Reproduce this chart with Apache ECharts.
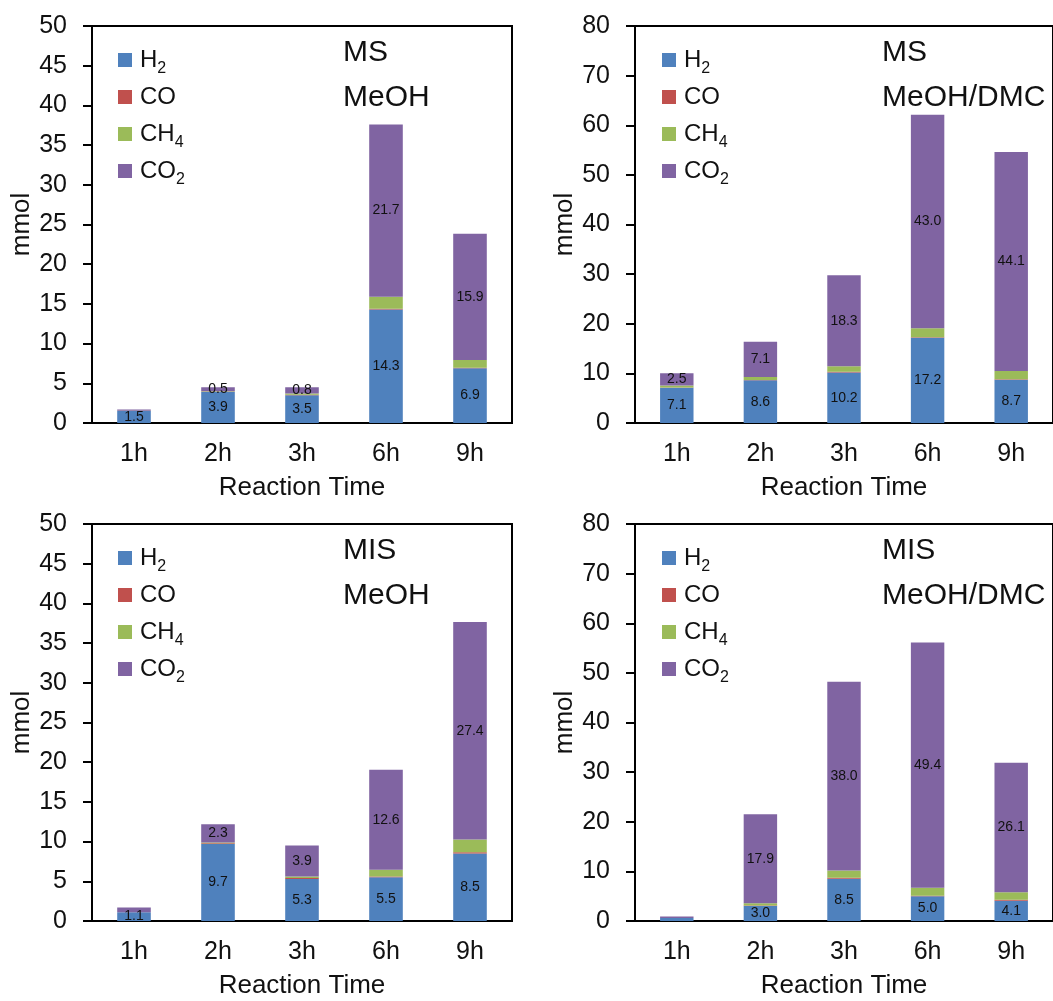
<!DOCTYPE html>
<html><head><meta charset="utf-8">
<script src="https://cdn.jsdelivr.net/npm/echarts@6/dist/echarts.min.js"></script>
<style>html,body{margin:0;padding:0;background:#fff}#c{width:1053px;height:1001px}</style>
</head><body><div id="c"></div><script>
const categories = ['1h', '2h', '3h', '6h', '9h'];
const gases = ['H2', 'CO', 'CH4', 'CO2'];
const gasColors = ['#4F81BD', '#C0504D', '#9BBB59', '#8064A2'];
const panelTitles = ['MS\nMeOH', 'MS\nMeOH/DMC', 'MIS\nMeOH', 'MIS\nMeOH/DMC'];
const yMax = [50, 80, 50, 80];
const yStep = [5, 10, 5, 10];

// Panel 1: MS, MeOH
const msMeoh_H2  = [1.5, 3.9, 3.5, 14.3, 6.9];
const msMeoh_CO  = [0.0, 0.05, 0.05, 0.1, 0.05];
const msMeoh_CH4 = [0.05, 0.05, 0.15, 1.5, 1.0];
const msMeoh_CO2 = [0.15, 0.5, 0.8, 21.7, 15.9];
// Panel 2: MS, MeOH/DMC
const msDmc_H2  = [7.1, 8.6, 10.2, 17.2, 8.7];
const msDmc_CO  = [0.05, 0.05, 0.15, 0.1, 0.1];
const msDmc_CH4 = [0.4, 0.6, 1.1, 1.8, 1.7];
const msDmc_CO2 = [2.5, 7.1, 18.3, 43.0, 44.1];
// Panel 3: MIS, MeOH
const misMeoh_H2  = [1.1, 9.7, 5.3, 5.5, 8.5];
const misMeoh_CO  = [0.0, 0.1, 0.1, 0.1, 0.15];
const misMeoh_CH4 = [0.0, 0.1, 0.2, 0.85, 1.6];
const misMeoh_CO2 = [0.6, 2.3, 3.9, 12.6, 27.4];
// Panel 4: MIS, MeOH/DMC
const misDmc_H2  = [0.6, 3.0, 8.5, 5.0, 4.1];
const misDmc_CO  = [0.0, 0.1, 0.2, 0.1, 0.2];
const misDmc_CH4 = [0.0, 0.5, 1.5, 1.6, 1.5];
const misDmc_CO2 = [0.3, 17.9, 38.0, 49.4, 26.1];

const panelData = [
  [msMeoh_H2, msMeoh_CO, msMeoh_CH4, msMeoh_CO2],
  [msDmc_H2, msDmc_CO, msDmc_CH4, msDmc_CO2],
  [misMeoh_H2, misMeoh_CO, misMeoh_CH4, misMeoh_CO2],
  [misDmc_H2, misDmc_CO, misDmc_CH4, misDmc_CO2]
];
const labelledGases = ['H2', 'CO2'];
// [panel, gas, category index] of values printed without a label in the original
const unlabelled = [[0, 'CO2', 0], [2, 'CO2', 0], [3, 'H2', 0], [3, 'CO2', 0]];

const FONT = "'Liberation Sans', Arial, sans-serif";
const grids = [
  {left: 92, top: 26, width: 420, height: 397},
  {left: 635, top: 26, width: 425, height: 397},
  {left: 92, top: 524, width: 420, height: 397},
  {left: 635, top: 524, width: 425, height: 397}
];
const legendPos = [[118, 43], [662, 43], [118, 541], [662, 541]];
const titlePos = [[343, 30], [882, 30], [343, 528], [882, 528]];
const nameGapsY = [55, 57, 55, 57];

const option = {
  animation: false,
  textStyle: {fontFamily: FONT},
  title: panelTitles.map((t, i) => ({
    text: t, left: titlePos[i][0], top: titlePos[i][1], padding: 0,
    textStyle: {fontSize: 30, lineHeight: 45, fontWeight: 'normal', color: '#111', fontFamily: FONT}
  })),
  legend: legendPos.map(p => ({
    left: p[0], top: p[1], orient: 'vertical', icon: 'rect', itemWidth: 14, itemHeight: 14,
    itemGap: 3, selectedMode: false, padding: 0, data: gases,
    formatter: n => ({H2: '{b|H}{s|2}', CO: '{b|CO}', CH4: '{b|CH}{s|4}', CO2: '{b|CO}{s|2}'})[n],
    textStyle: {fontSize: 24, lineHeight: 34, color: '#111', fontFamily: FONT,
      rich: {b: {fontSize: 24, lineHeight: 34, color: '#111', padding: [0, 0, 0, 3]},
             s: {fontSize: 16, verticalAlign: 'bottom', color: '#111'}}}
  })),
  grid: grids.map(g => Object.assign({show: true, borderColor: '#000', borderWidth: 2, containLabel: false}, g)),
  xAxis: grids.map((g, i) => ({
    type: 'category', gridIndex: i, data: categories,
    axisLine: {show: true, lineStyle: {color: '#000', width: 2}},
    axisTick: {show: false},
    axisLabel: {margin: 19, fontSize: 25, color: '#111', fontFamily: FONT},
    name: 'Reaction Time', nameLocation: 'middle', nameGap: 52,
    nameTextStyle: {fontSize: 26, color: '#111', fontFamily: FONT}
  })),
  yAxis: grids.map((g, i) => ({
    type: 'value', gridIndex: i, min: 0, max: yMax[i], interval: yStep[i],
    axisLine: {show: true, lineStyle: {color: '#000', width: 2}},
    axisTick: {show: true, length: 9, lineStyle: {color: '#000', width: 2}},
    axisLabel: {margin: 25, fontSize: 25, color: '#111', fontFamily: FONT},
    splitLine: {show: false},
    name: 'mmol', nameLocation: 'middle', nameGap: nameGapsY[i],
    nameTextStyle: {fontSize: 26, color: '#111', fontFamily: FONT}
  })),
  series: []
};

panelData.forEach((arrs, p) => {
  arrs.forEach((vals, k) => {
    const gas = gases[k];
    const showLab = labelledGases.includes(gas);
    option.series.push({
      type: 'bar', name: gas, xAxisIndex: p, yAxisIndex: p, stack: 'p' + p,
      barWidth: '40%', itemStyle: {color: gasColors[k]},
      label: {show: showLab, position: 'inside', fontSize: 14, color: '#111',
        fontFamily: FONT, textBorderWidth: 0, formatter: d => Number(d.value).toFixed(1)},
      data: vals.map((v, j) => {
        const hide = unlabelled.some(u => u[0] === p && u[1] === gas && u[2] === j);
        return hide ? {value: v, label: {show: false}} : v;
      })
    });
  });
});

const chart = echarts.init(document.getElementById('c'), null, {renderer: 'canvas'});
chart.setOption(option);
</script></body></html>
